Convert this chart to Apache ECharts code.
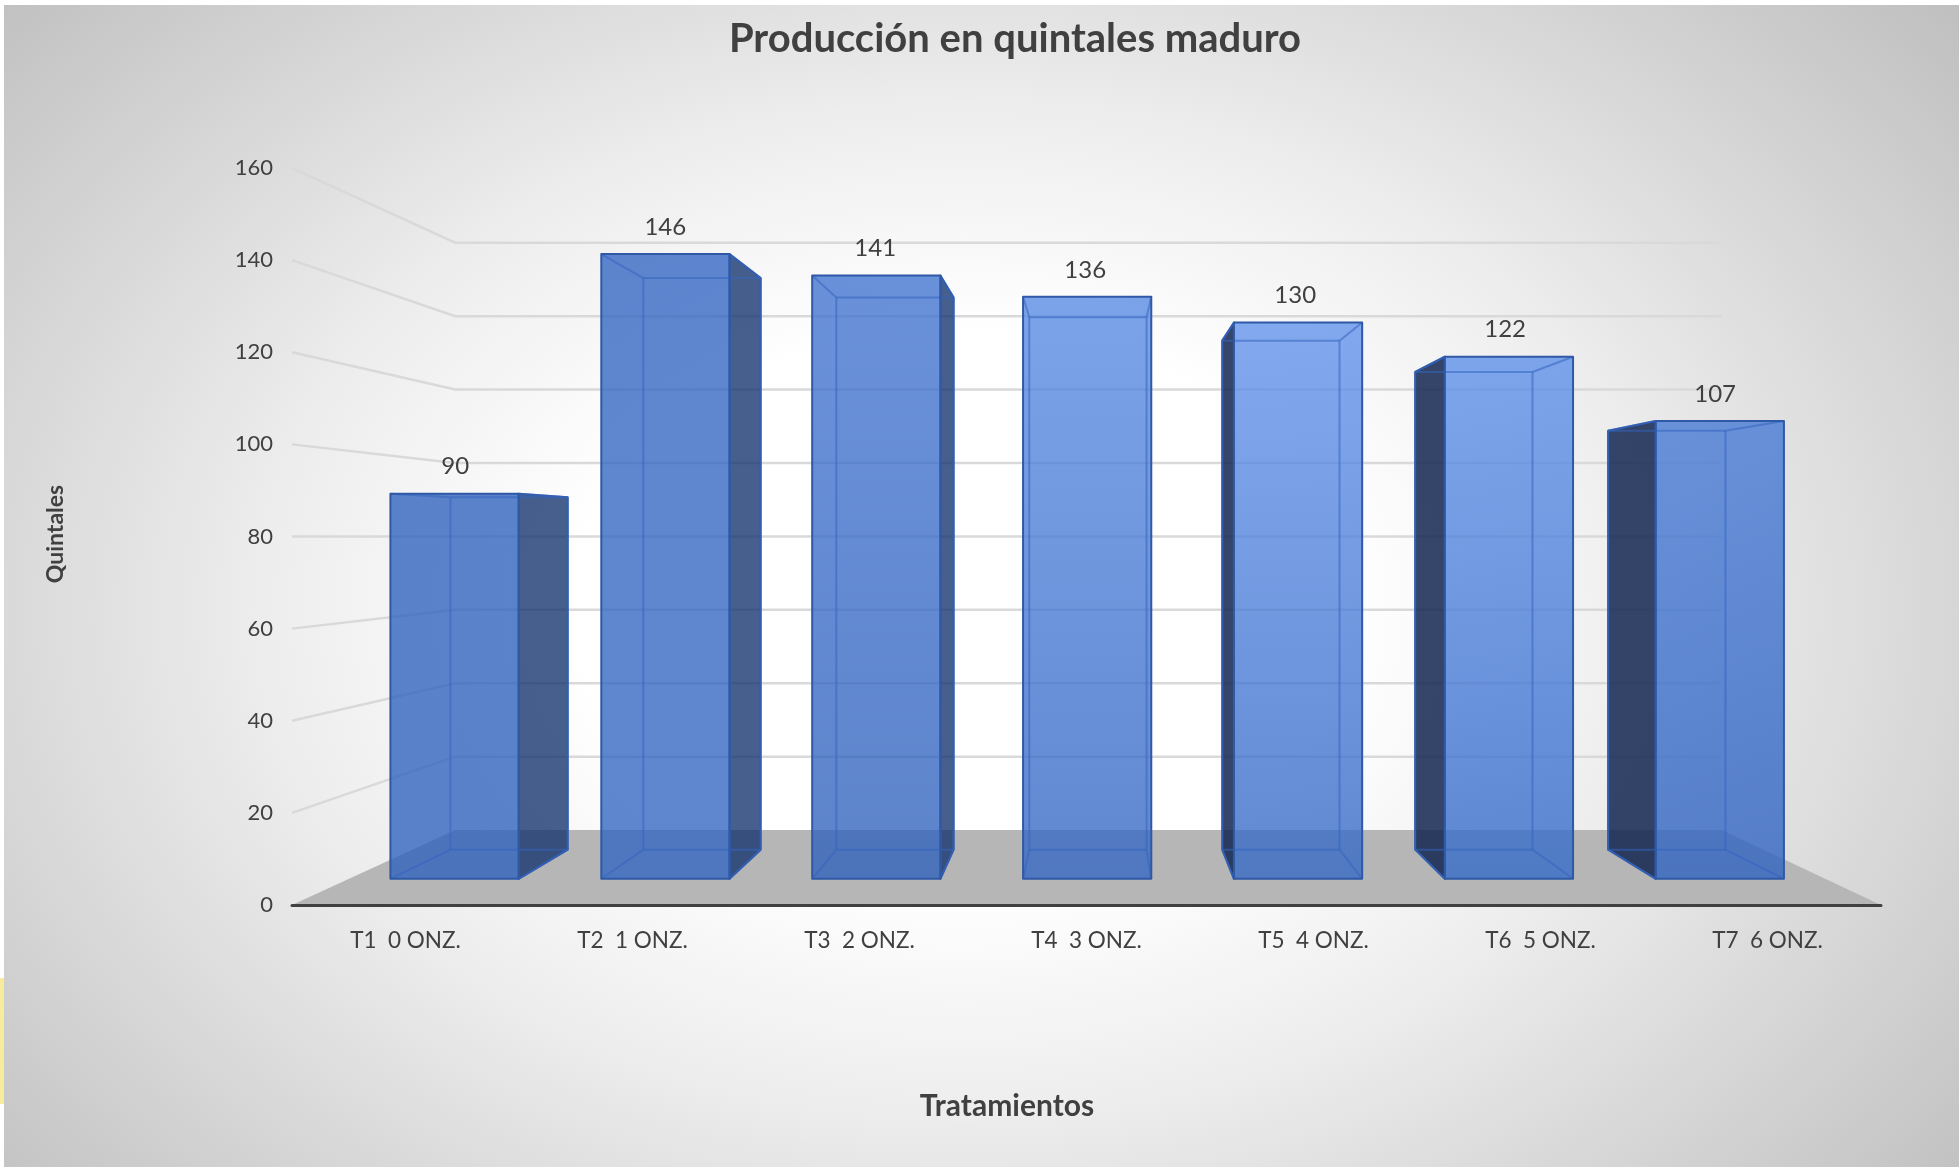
<!DOCTYPE html>
<html>
<head>
<meta charset="utf-8">
<title>Producción en quintales maduro</title>
<script src="https://cdn.jsdelivr.net/npm/echarts@6/dist/echarts.min.js"></script>
<style>
html, body { margin: 0; padding: 0; background: #fff; }
#chart_container { width: 1959px; height: 1167px; }
</style>
</head>
<body>
<div id="chart_container"></div>
<script>
// data
var categories = ['T1  0 ONZ.', 'T2  1 ONZ.', 'T3  2 ONZ.', 'T4  3 ONZ.', 'T5  4 ONZ.', 'T6  5 ONZ.', 'T7  6 ONZ.'];
var produccion = [90, 146, 141, 136, 130, 122, 107];
var gridTicks = [20, 40, 60, 80, 100, 120, 140, 160];

// face colours per bar, top and bottom of the gradient
var faceTop = ['#5b84cc', '#5e87d0', '#6a92da', '#7ba4ea', '#84aaf0', '#80a8ee', '#6c96de'];
var faceBottom = ['#5b84cc', '#5e87cf', '#5c84cb', '#6088d0', '#6089d2', '#5f8ad4', '#5b84cf'];

// the fake 3d: everything is shrunk toward this point
var VP_X = 1096, VP_Y = 536;
var S_BAR_FRONT = 0.929, S_BAR_BACK = 0.85, S_WALL = 0.797, S_LABEL = 0.925;
var BAR_WIDTH = 0.608;
var FACE_ALPHA = 0.78;

// background ellipse, local coords of the rect below
var BG_RATIO = 0.72;

function project(p, s) {
    return [VP_X + (p[0] - VP_X) * s, VP_Y + (p[1] - VP_Y) * s];
}

// hex colour as seen over white -> rgba with alpha
function throughAlpha(hex, a) {
    var n = parseInt(hex.slice(1), 16);
    var c = [n >> 16, (n >> 8) & 255, n & 255].map(function (v) {
        return Math.max(0, Math.round((v - 255 * (1 - a)) / a));
    });
    return 'rgba(' + c[0] + ',' + c[1] + ',' + c[2] + ',' + a + ')';
}

function poly(points, fill, stroke, width) {
    return {
        type: 'polygon',
        shape: { points: points },
        style: { fill: fill, stroke: stroke || null, lineWidth: width || 0, lineJoin: 'round' }
    };
}

function line(a, b, stroke, width) {
    return {
        type: 'line',
        shape: { x1: a[0], y1: a[1], x2: b[0], y2: b[1] },
        style: { stroke: stroke, lineWidth: width }
    };
}

function renderFloor(params, api) {
    var cs = params.coordSys;
    var y0 = api.coord([0, api.value(0)])[1];
    var l = [cs.x, y0], r = [cs.x + cs.width, y0];
    return poly([l, r, project(r, S_WALL), project(l, S_WALL)], '#b6b6b6');
}

function renderGrid(params, api) {
    var cs = params.coordSys;
    var y = api.coord([0, api.value(0)])[1];
    var a = [cs.x, y];
    var b = project(a, S_WALL);
    var c = project([cs.x + cs.width, y], S_WALL);
    return {
        type: 'polyline',
        shape: { points: [a, b, c] },
        style: { fill: null, stroke: '#d9d9d9', lineWidth: 2.5 }
    };
}

function renderBar(params, api) {
    var i = api.value(0);
    var v = api.value(1);
    var half = api.size([1, 0])[0] * BAR_WIDTH / 2;
    var cx = api.coord([i, 0])[0];
    var y0 = api.coord([i, 0])[1];
    var y1 = api.coord([i, v])[1];

    var bl = [cx - half, y0], br = [cx + half, y0];
    var tl = [cx - half, y1], tr = [cx + half, y1];

    var fbl = project(bl, S_BAR_FRONT), fbr = project(br, S_BAR_FRONT);
    var ftl = project(tl, S_BAR_FRONT), ftr = project(tr, S_BAR_FRONT);
    var kbl = project(bl, S_BAR_BACK), kbr = project(br, S_BAR_BACK);
    var ktl = project(tl, S_BAR_BACK), ktr = project(tr, S_BAR_BACK);

    var children = [];
    var edge = '#2f59a6';
    var inner = 'rgba(52,100,190,0.55)';

    // dark side of the box, only the one sticking out of the front
    if (kbr[0] > fbr[0] + 1) {
        children.push(poly([ftr, ktr, kbr, fbr], 'rgba(19,50,108,0.78)', edge, 2));
    }
    if (kbl[0] < fbl[0] - 1) {
        children.push(poly([ftl, ktl, kbl, fbl], 'rgba(18,38,80,0.85)', edge, 2));
    }

    // front face
    children.push(poly([ftl, ftr, fbr, fbl], {
        type: 'linear', x: 0, y: 0, x2: 0, y2: 1,
        colorStops: [
            { offset: 0, color: throughAlpha(faceTop[i], FACE_ALPHA) },
            { offset: 1, color: throughAlpha(faceBottom[i], FACE_ALPHA) }
        ]
    }));

    // back edges and the diagonals
    children.push(line(ktl, ktr, inner, 2));
    children.push(line(kbl, kbr, inner, 2));
    children.push(line(ktl, kbl, inner, 2));
    children.push(line(ktr, kbr, inner, 2));
    children.push(line(ftl, ktl, inner, 2));
    children.push(line(ftr, ktr, inner, 2));
    children.push(line(fbl, kbl, inner, 2));
    children.push(line(fbr, kbr, inner, 2));

    // front outline on top
    children.push(poly([ftl, ftr, fbr, fbl], 'transparent', edge, 2));

    // value on top of the bar
    children.push({
        type: 'text',
        x: project([cx, 0], S_LABEL)[0] - 2,
        y: ftl[1] - 27,
        style: {
            text: String(v),
            fill: '#404040',
            font: '24px Lato',
            align: 'center',
            verticalAlign: 'middle'
        }
    });

    return { type: 'group', children: children };
}

var dom = document.getElementById('chart_container');
var myChart = echarts.init(dom);

var option = {
    animation: false,
    backgroundColor: '#ffffff',
    title: [{
        text: 'Producción en quintales maduro',
        left: 1010,
        top: 34,
        textAlign: 'center',
        textVerticalAlign: 'middle',
        textStyle: { fontFamily: 'Lato', fontSize: 40, fontWeight: 'bold', color: '#404040' }
    }, {
        text: 'Tratamientos',
        left: 1002,
        top: 1101,
        textAlign: 'center',
        textVerticalAlign: 'middle',
        textStyle: { fontFamily: 'Lato', fontSize: 30, fontWeight: 'bold', color: '#404040' }
    }],
    graphic: [{
        // page background: radial gradient squeezed to an ellipse
        type: 'rect',
        z: -10,
        x: 4,
        y: 5,
        scaleY: BG_RATIO,
        shape: { x: 0, y: 0, width: 1955, height: 1162 / BG_RATIO },
        style: {
            fill: {
                type: 'radial', global: true, x: 958, y: 839, r: 1370,
                colorStops: [
                    { offset: 0, color: '#ffffff' },
                    { offset: 0.28, color: '#ffffff' },
                    { offset: 0.5, color: '#eeeeee' },
                    { offset: 0.7, color: '#d9d9d9' },
                    { offset: 1, color: '#bababa' }
                ]
            }
        }
    }, {
        // scrap of yellow left at the picture edge
        type: 'rect',
        z: -10,
        shape: { x: 0, y: 978, width: 4, height: 126 },
        style: { fill: '#f7ec9e' }
    }],
    grid: { left: 292, right: 78, top: 168, bottom: 262, containLabel: false },
    xAxis: {
        type: 'category',
        data: categories,
        z: 5,
        axisLine: { show: true, lineStyle: { color: '#404040', width: 3, cap: 'round' } },
        axisTick: { show: false },
        axisLabel: { color: '#404040', fontFamily: 'Lato', fontSize: 22.5, margin: 24, interval: 0 }
    },
    yAxis: {
        type: 'value',
        min: 0,
        max: 160,
        interval: 20,
        name: 'Quintales',
        nameLocation: 'middle',
        nameRotate: 90,
        nameGap: 225,
        nameTextStyle: { color: '#404040', fontFamily: 'Lato', fontSize: 23, fontWeight: 'bold', padding: [0, 0, 0, 5] },
        axisLine: { show: false },
        axisTick: { show: false },
        splitLine: { show: false },
        axisLabel: { color: '#404040', fontFamily: 'Lato', fontSize: 22, margin: 19, padding: [9, 0, 0, 0] }
    },
    series: [{
        type: 'custom',
        name: 'piso',
        silent: true,
        clip: false,
        z: 1,
        data: [[0]],
        encode: { y: 0 },
        renderItem: renderFloor
    }, {
        type: 'custom',
        name: 'rejilla',
        silent: true,
        clip: false,
        z: 2,
        data: gridTicks.map(function (t) { return [t]; }),
        encode: { y: 0 },
        renderItem: renderGrid
    }, {
        type: 'custom',
        name: 'Producción',
        clip: false,
        z: 3,
        data: produccion.map(function (v, i) { return [i, v]; }),
        encode: { x: 0, y: 1 },
        renderItem: renderBar
    }]
};

myChart.setOption(option, true);
</script>
</body>
</html>
